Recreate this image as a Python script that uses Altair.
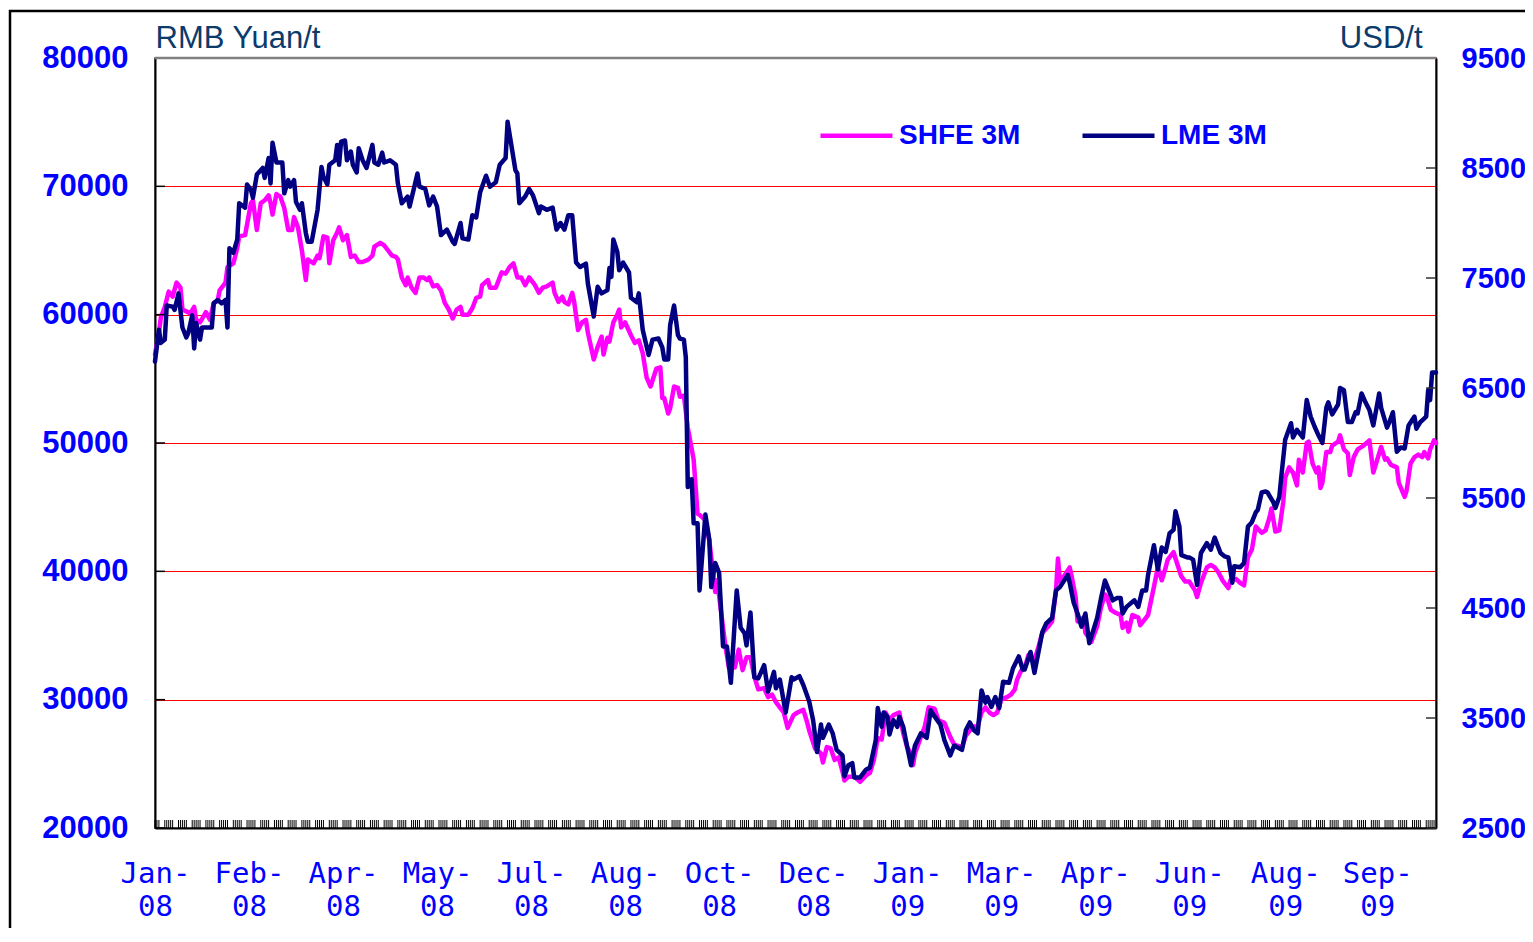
import altair as alt
import pandas as pd

# ---------------- data ----------------
# day offsets from 2008-01-02
lme_day = [0, 2, 3, 5, 6, 9, 10, 12, 14, 16, 17, 19, 20, 21, 23, 24, 26, 29, 30, 32, 34, 36, 37, 38, 40, 42, 43, 46, 47, 49,
           50, 52, 55, 56, 58, 59, 60, 62, 65, 66, 68, 69, 71, 72, 74, 75, 77, 78, 80, 83, 85, 86, 88, 89, 92, 93, 94, 95, 97, 98,
           100, 101, 103, 104, 106, 108, 111, 112, 114, 116, 117, 120, 123, 124, 126, 129, 130, 134, 135, 138, 140, 142, 144, 146, 149, 152, 153, 156, 157, 160,
           162, 164, 166, 169, 171, 174, 176, 179, 180, 184, 185, 186, 189, 191, 193, 196, 197, 200, 203, 205, 207, 209, 211, 213, 215, 217, 220, 221, 224, 226,
           228, 231, 232, 233, 234, 236, 237, 239, 242, 243, 246, 247, 249, 252, 254, 257, 259, 260, 262, 263, 265, 267, 268, 270, 271, 272, 273, 274, 275, 277,
           278, 281, 283, 284, 286, 288, 290, 292, 294, 297, 299, 301, 302, 304, 306, 308, 311, 313, 316, 317, 319, 322, 325, 326, 329, 331, 334, 336, 338, 340,
           341, 344, 346, 348, 351, 352, 354, 356, 357, 360, 363, 365, 368, 369, 371, 372, 374, 375, 377, 379, 380, 382, 384, 386, 388, 391, 394, 396, 397, 401,
           403, 406, 408, 412, 414, 416, 418, 420, 422, 424, 425, 427, 429, 431, 433, 436, 438, 441, 443, 444, 447, 449, 453, 455, 458, 460, 462, 466, 467, 469,
           471, 473, 475, 477, 481, 483, 485, 487, 489, 491, 493, 494, 496, 500, 502, 504, 506, 507, 510, 512, 514, 516, 518, 520, 521, 523, 524, 527, 528, 530,
           532, 534, 537, 539, 541, 544, 546, 548, 550, 551, 554, 556, 558, 560, 562, 563, 565, 567, 568, 571, 572, 574, 575, 577, 580, 581, 583, 586, 588, 590,
           592, 594, 596, 598, 599, 601, 604, 605, 607, 609, 611, 613, 614, 616, 618, 620, 622, 625, 626, 629, 630, 632, 634, 636, 638, 640, 643, 644, 646, 649,
           650, 651, 652, 654]
lme_usd = [6740, 7030, 6910, 6940, 7250, 7240, 7210, 7360, 7050, 6960, 7000, 7160, 6860, 7090, 6940, 7050, 7050, 7050, 7270, 7300, 7270, 7300, 7050, 7770, 7730, 7850, 8180, 8140, 8350, 8300,
           8230, 8440, 8500, 8410, 8590, 8360, 8730, 8550, 8550, 8270, 8390, 8330, 8390, 8190, 8120, 8180, 7910, 7830, 7830, 8120, 8510, 8420, 8350, 8530, 8570, 8710, 8530, 8740, 8750, 8570,
           8650, 8530, 8460, 8680, 8570, 8500, 8710, 8550, 8530, 8640, 8550, 8570, 8530, 8360, 8180, 8240, 8150, 8450, 8330, 8310, 8160, 8240, 8150, 7890, 7940, 7830, 7810, 8000, 7860, 7850,
           8070, 8050, 8280, 8430, 8330, 8370, 8530, 8590, 8920, 8480, 8450, 8180, 8240, 8310, 8250, 8090, 8150, 8120, 8140, 7940, 8000, 7940, 8070, 8070, 7640, 7600, 7630, 7450, 7150, 7420,
           7360, 7390, 7590, 7510, 7850, 7740, 7570, 7640, 7550, 7320, 7280, 7360, 7030, 6800, 6940, 6950, 6870, 6760, 6760, 7070, 7250, 6980, 6950, 6940, 6780, 5600, 5660, 5670, 5270, 5270,
           4660, 5350, 5120, 4690, 4910, 4820, 4150, 4150, 3820, 4660, 4320, 4270, 4160, 4460, 3870, 3860, 3980, 3740, 3920, 3770, 3850, 3550, 3870, 3850, 3880, 3800, 3650, 3480, 3190, 3440,
           3320, 3440, 3360, 3210, 3160, 2970, 3070, 3090, 2960, 2960, 3030, 3050, 3300, 3590, 3420, 3550, 3510, 3350, 3480, 3420, 3510, 3420, 3240, 3070, 3250, 3360, 3320, 3570, 3540, 3440,
           3300, 3160, 3250, 3210, 3390, 3460, 3390, 3360, 3750, 3640, 3690, 3600, 3690, 3590, 3830, 3820, 3950, 4060, 3940, 3940, 4100, 3910, 4280, 4360, 4410, 4660, 4690, 4800, 4730, 4550,
           4450, 4330, 4450, 4180, 4410, 4590, 4750, 4660, 4570, 4590, 4590, 4450, 4510, 4570, 4510, 4660, 4660, 4800, 5070, 4850, 5050, 5010, 5180, 5210, 5380, 5240, 4980, 4960, 4960, 4940,
           4710, 5000, 5090, 5030, 5140, 5000, 4970, 4960, 4730, 4880, 4870, 4910, 5240, 5280, 5370, 5390, 5550, 5560, 5550, 5460, 5410, 5510, 5690, 6030, 6180, 6050, 6120, 6050, 6390, 6240,
           6150, 6070, 6000, 6320, 6370, 6260, 6350, 6500, 6480, 6190, 6190, 6280, 6270, 6450, 6370, 6300, 6160, 6450, 6320, 6140, 6180, 6280, 5920, 5960, 5950, 6160, 6240, 6130, 6190, 6240,
           6480, 6390, 6640, 6640]

shfe_day = [0, 2, 3, 5, 7, 9, 11, 13, 14, 18, 20, 21, 23, 26, 28, 30, 32, 33, 36, 37, 40, 42, 43, 46, 49, 50, 52, 54, 56, 58,
            59, 60, 62, 64, 66, 68, 70, 71, 73, 75, 77, 78, 81, 83, 84, 86, 88, 89, 91, 93, 94, 96, 98, 100, 102, 104, 106, 109, 111, 112,
            115, 117, 119, 121, 123, 124, 126, 128, 129, 131, 133, 135, 137, 139, 140, 142, 144, 146, 148, 150, 152, 154, 156, 157, 160, 162, 164, 166, 167, 170,
            171, 174, 175, 177, 179, 181, 183, 185, 187, 189, 191, 194, 196, 198, 200, 203, 204, 206, 208, 209, 211, 213, 214, 216, 218, 220, 221, 224, 226, 228,
            229, 231, 232, 234, 236, 237, 238, 240, 243, 245, 247, 249, 251, 253, 256, 258, 259, 260, 262, 263, 265, 267, 268, 270, 272, 275, 277, 278, 281, 283,
            286, 287, 291, 293, 296, 298, 300, 302, 304, 306, 308, 311, 313, 315, 317, 319, 321, 323, 326, 328, 331, 333, 334, 337, 340, 341, 343, 345, 347, 349,
            351, 352, 354, 357, 360, 363, 365, 367, 369, 371, 373, 375, 377, 380, 382, 384, 386, 387, 388, 391, 393, 395, 398, 400, 403, 406, 408, 412, 414, 416,
            418, 420, 422, 424, 426, 428, 430, 432, 435, 437, 439, 440, 442, 444, 446, 449, 451, 453, 456, 458, 460, 461, 462, 464, 467, 468, 470, 471, 474, 475,
            477, 478, 481, 483, 485, 486, 488, 490, 493, 494, 496, 497, 499, 502, 503, 506, 507, 510, 512, 514, 516, 517, 520, 521, 524, 526, 528, 531, 532, 534,
            537, 539, 541, 543, 545, 548, 549, 552, 554, 556, 558, 560, 562, 565, 567, 569, 570, 572, 574, 576, 577, 579, 581, 583, 584, 586, 588, 589, 591, 593,
            594, 595, 596, 598, 600, 601, 604, 605, 607, 609, 610, 612, 614, 617, 620, 622, 624, 626, 628, 629, 631, 634, 635, 638, 639, 641, 643, 645, 647, 648,
            650, 651, 653, 654]
shfe_rmb = [56900, 58600, 59800, 60600, 61800, 61400, 62500, 62100, 60400, 60100, 60600, 59600, 59400, 60200, 59600, 60900, 61100, 61900, 62500, 63700, 64000, 65200, 66100, 66200, 68700, 68900, 66600, 68700, 68900, 69300,
            68700, 67800, 69400, 69200, 68300, 66600, 66600, 67600, 66800, 65000, 62700, 64300, 64000, 64600, 64400, 66100, 66000, 64000, 65800, 66400, 66800, 65800, 66200, 64500, 64600, 64100, 64100, 64300, 64600, 65300,
            65600, 65400, 65000, 64600, 64500, 64300, 62900, 62300, 62900, 62100, 61700, 62900, 62900, 62700, 62900, 62200, 62300, 61900, 60900, 60400, 59700, 60400, 60600, 60000, 60000, 60500, 61300, 61400, 62300, 62700,
            62100, 62100, 62500, 63300, 63200, 63700, 64000, 62900, 62900, 62300, 62900, 62300, 61700, 62100, 62200, 62500, 61700, 61000, 61400, 61000, 60800, 61700, 61000, 58800, 59400, 59600, 58600, 56500, 57500, 58300,
            56900, 58200, 57900, 59400, 60000, 60400, 59000, 59400, 58400, 57800, 58000, 57000, 55100, 54400, 55800, 55900, 53500, 53500, 52300, 52700, 54400, 54300, 53600, 53700, 51200, 48700, 44500, 44400, 44000, 42400,
            38400, 39300, 34400, 32500, 32500, 33900, 32300, 33300, 33300, 31800, 30800, 30900, 30200, 30400, 29800, 29400, 29000, 27800, 28800, 29000, 29200, 28200, 27600, 26200, 25800, 25100, 26300, 26200, 25300, 25500,
            24400, 23700, 24000, 24000, 23600, 24100, 24300, 25300, 27000, 26900, 29000, 28400, 28800, 29000, 27400, 26300, 25800, 24900, 25800, 27100, 27900, 29400, 29300, 28400, 28200, 27100, 26500, 26300, 27200, 27600,
            27900, 27900, 29000, 29400, 29000, 28800, 29000, 30000, 30200, 30400, 30800, 31500, 32200, 32500, 33500, 33100, 34100, 35200, 35700, 36100, 38500, 41000, 39200, 39600, 40300, 39600, 38000, 36100, 36400, 35200,
            34800, 34500, 35700, 37200, 38200, 38000, 37000, 36800, 36600, 35600, 36000, 35300, 36600, 36400, 35800, 36400, 36600, 38800, 40300, 39300, 40300, 40900, 41500, 41000, 39600, 39200, 39200, 38500, 38000, 39100,
            40300, 40500, 40300, 39900, 39300, 38700, 39300, 39400, 39100, 38900, 41100, 41700, 43500, 43000, 43200, 44200, 44900, 43100, 43200, 45400, 47300, 48100, 47700, 46700, 48700, 47700, 50000, 50100, 48400, 47700,
            48100, 46500, 46900, 49300, 49300, 49800, 50100, 50600, 49500, 49200, 47500, 48900, 49500, 49800, 50200, 47700, 48700, 49700, 48700, 48800, 48300, 48100, 46900, 45800, 46300, 48400, 48900, 49100, 48900, 49300,
            48800, 49500, 50200, 50000]

series_names = ["SHFE 3M", "LME 3M"]
series_colors = ["#FF00FF", "#000080"]
left_ticks = [20000, 30000, 40000, 50000, 60000, 70000, 80000]
right_ticks = [2500, 3500, 4500, 5500, 6500, 7500, 8500, 9500]
x_label_dates = [(2008, 1, 2), (2008, 2, 19), (2008, 4, 7), (2008, 5, 25), (2008, 7, 12), (2008, 8, 29),
                 (2008, 10, 16), (2008, 12, 3), (2009, 1, 20), (2009, 3, 9), (2009, 4, 26), (2009, 6, 13),
                 (2009, 8, 1), (2009, 9, 17)]
minor_tick_dates = [d.strftime("%Y-%m-%dT00:00:00") for d in pd.bdate_range("2008-01-02", "2009-10-16")]

BASE = pd.Timestamp("2008-01-02")


def to_dates(days):
    return [(BASE + pd.Timedelta(days=int(d))).strftime("%Y-%m-%dT00:00:00") for d in days]


shfe_df = pd.DataFrame({"date": to_dates(shfe_day), "value": shfe_rmb, "series": "SHFE 3M"})
lme_df = pd.DataFrame({"date": to_dates(lme_day), "value": lme_usd, "series": "LME 3M"})
lt_df = pd.DataFrame({"value": left_ticks})
rt_df = pd.DataFrame({"value": right_ticks})
minor_df = pd.DataFrame({"date": minor_tick_dates})
one_df = pd.DataFrame({"a": [0]})

# ---------------- layout ----------------
W, H = 1281, 770
BLUE = "#0000FF"
TITLE_C = "#0B3A6B"
SANS = "Liberation Sans"

x_enc = alt.X(
    "date:T",
    scale=alt.Scale(domain=[alt.DateTime(year=2008, month=1, date=2),
                            alt.DateTime(year=2009, month=10, date=17)]),
    axis=alt.Axis(
        values=[alt.DateTime(year=y, month=m, date=d) for (y, m, d) in x_label_dates],
        labelExpr="[timeFormat(datum.value, '%b-'), timeFormat(datum.value, '%y')]",
        labelFont="DejaVu Sans Mono", labelFontSize=29, labelColor=BLUE,
        labelLineHeight=33, labelPadding=31, labelFlush=False, labelOverlap=False,
        ticks=False, tickSize=0, grid=False,
        domainColor="#000000", domainWidth=2, orient="bottom",
    ),
    title=None,
)

color_enc = alt.Color(
    "series:N",
    scale=alt.Scale(domain=series_names, range=series_colors),
    legend=alt.Legend(
        title=None, orient="none", legendX=663, legendY=39, direction="horizontal", columns=2,
        symbolType="stroke", symbolSize=5184, symbolStrokeWidth=4.5,
        labelFont=SANS, labelFontSize=28, labelFontWeight="bold", labelColor=BLUE,
        labelOffset=4, columnPadding=52, labelLimit=300,
    ),
)

left_y = alt.Y(
    "value:Q",
    scale=alt.Scale(domain=[20000, 80000], nice=False, zero=False),
    axis=alt.Axis(
        values=left_ticks, orient="left", format="d",
        labelFont=SANS, labelFontSize=31, labelFontWeight="bold", labelColor=BLUE,
        labelPadding=27, labelOverlap=False, ticks=False, tickSize=0,
        domainColor="#000000", domainWidth=2,
        grid=True, gridColor="#FF0000", gridWidth=1,
        title="RMB Yuan/t", titleAngle=0, titleAlign="left", titleBaseline="alphabetic",
        titleX=0, titleY=-11, titleFont=SANS, titleFontSize=31, titleFontWeight="normal",
        titleColor=TITLE_C,
    ),
)

right_y = alt.Y(
    "value:Q",
    scale=alt.Scale(domain=[2500, 9500], nice=False, zero=False),
    axis=alt.Axis(
        values=right_ticks, orient="right", format="d",
        labelFont=SANS, labelFontSize=29, labelFontWeight="bold", labelColor=BLUE,
        labelPadding=25, labelOverlap=False, ticks=False, tickSize=0,
        domainColor="#000000", domainWidth=2, grid=False,
        title="USD/t", titleAngle=0, titleAlign="right", titleBaseline="alphabetic",
        titleX=-14, titleY=-11, titleFont=SANS, titleFontSize=31, titleFontWeight="normal",
        titleColor=TITLE_C,
    ),
)

shfe_line = alt.Chart(shfe_df).mark_line(strokeWidth=4.5, strokeJoin="round", strokeCap="round").encode(
    x=x_enc, y=left_y, color=color_enc
)
left_tick_marks = alt.Chart(lt_df).mark_rule(color="#000000", strokeWidth=1.5).encode(
    y=left_y, x=alt.value(0), x2=alt.value(10)
)
lme_line = alt.Chart(lme_df).mark_line(strokeWidth=4.5, strokeJoin="round", strokeCap="round").encode(
    x=x_enc, y=right_y, color=color_enc
)
right_tick_marks = alt.Chart(rt_df).mark_rule(color="#333333", strokeWidth=1.5).encode(
    y=right_y, x=alt.value(W - 10), x2=alt.value(W)
)
minor_ticks = alt.Chart(minor_df).mark_rule(color="#000000", strokeWidth=1).encode(
    x=x_enc, y=alt.value(H - 8), y2=alt.value(H)
)
top_border = alt.Chart(one_df).mark_rule(color="#808080", strokeWidth=2.5).encode(
    x=alt.value(0), x2=alt.value(W), y=alt.value(0)
)
frame = alt.Chart(one_df).mark_rect(fillOpacity=0, stroke="#000000", strokeWidth=2.5).encode(
    x=alt.value(-145), x2=alt.value(W + 400), y=alt.value(-47), y2=alt.value(H + 400)
)

left_layer = alt.layer(shfe_line, left_tick_marks)
right_layer = alt.layer(lme_line, right_tick_marks)

chart = (
    alt.layer(left_layer, right_layer, minor_ticks, top_border, frame)
    .resolve_scale(y="independent")
    .properties(
        width=W, height=H,
        autosize=alt.AutoSizeParams(type="none"),
        padding={"left": 147, "top": 50, "right": 89, "bottom": 100},
        background="white",
    )
    .configure_view(stroke="#808080", strokeWidth=2)
)

chart.save("out.html", embed_options={"renderer": "svg", "actions": False})
